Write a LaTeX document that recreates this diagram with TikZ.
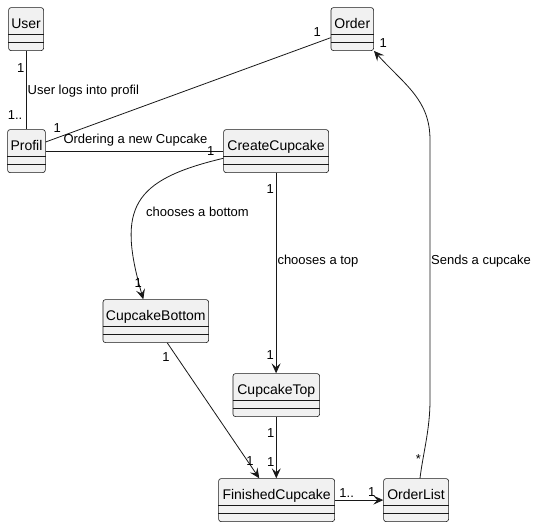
\documentclass[tikz,border=0pt]{standalone}
\usepackage{fontspec}
\setmainfont{Liberation Sans}
\usetikzlibrary{arrows.meta,calc}
\definecolor{boxfill}{HTML}{F1F1F1}
\definecolor{boxline}{HTML}{181818}
\tikzset{
  classbox/.style={draw=boxline, fill=boxfill, rounded corners=2.5pt, minimum height=43pt, inner sep=0pt, line width=0.6pt},
  classtitle/.style={inner sep=0pt, font=\fontsize{14}{16}\selectfont},
  sep/.style={draw=boxline, line width=0.6pt},
  conn/.style={draw=boxline, line width=0.8pt},
  arr/.style={-{Stealth[length=10pt,width=9pt,inset=4pt]}},
  lbl/.style={inner sep=0pt, font=\fontsize{13}{15}\selectfont},
}
\newcommand{\umlclass}[5]{%
  \node[classbox, minimum width=#4pt, anchor=north west] (#1) at (#2,#3) {};
  \node[classtitle, anchor=base] (#1-t) at ($(#1.north)+(0,21)$) {#5};
  \draw[sep] ($(#1.north west)+(0,26.7)$) -- ($(#1.north east)+(0,26.7)$);
  \draw[sep] ($(#1.north west)+(0,35)$) -- ($(#1.north east)+(0,35)$);
}
\begin{document}
\begin{tikzpicture}[x=1pt,y=-1pt]
\useasboundingbox (0,0) rectangle (539,527);
\umlclass{user}{8.3}{7.3}{35}{User}
\umlclass{profil}{7.3}{129.3}{37.7}{Profil}
\umlclass{order}{330.7}{7.3}{42.6}{Order}
\umlclass{create}{223.3}{129.3}{105}{CreateCupcake}
\umlclass{cbottom}{102.7}{299.3}{105.6}{CupcakeBottom}
\umlclass{ctop}{232.7}{373.3}{86.6}{CupcakeTop}
\umlclass{finished}{218.3}{478.3}{116}{FinishedCupcake}
\umlclass{orderlist}{383.3}{478.3}{65}{OrderList}

% connectors
\draw[conn] (user.south) -- (user.south |- profil.north);
\draw[conn] ($(profil.north east)+(0,12.7)$) -- ($(order.north west)+(0,30.4)$);
\draw[conn] ($(profil.north east)+(0,21.7)$) -- ($(create.north west)+(0,21.7)$);
\draw[conn,arr] ($(create.north west)+(0,29)$) .. controls +(-91.3,21.7) and +(-26.3,-91.3) .. ($(cbottom.north west)+(40.6,0)$);
\draw[conn,arr] (create.south) -- (create.south |- ctop.north);
\draw[conn,arr] ($(cbottom.south west)+(64.6,0)$) -- ($(finished.north west)+(41,0)$);
\draw[conn,arr] (ctop.south) -- (ctop.south |- finished.north);
\draw[conn,arr] (finished.east) -- (orderlist.west);
\draw[conn,arr] ($(orderlist.north west)+(36.7,0)$) .. controls +(3,-25) and +(0,30) .. ++(10,-78.3) -- ++(0,-260) .. controls +(0,-40) and +(31.7,34.7) .. (order.south east);

% labels
\node[lbl] (m1) at (20.7,68.3) {1};
\node[lbl] (m2) at (15,115) {1..};
\node[lbl, anchor=base west] (l1) at (27.5,94.3) {User logs into profil};
\node[lbl] (m3) at (57.3,128.3) {1};
\node[lbl] (m4) at (317.3,31.7) {1};
\node[lbl, anchor=base west] (l2) at (63.3,144) {Ordering a new Cupcake};
\node[lbl] (m5) at (210.7,150.7) {1};
\node[lbl, anchor=base west] (l3) at (146,216.7) {chooses a bottom};
\node[lbl] (m6) at (138.3,283.3) {1};
\node[lbl, anchor=base west] (l4) at (277.3,264) {chooses a top};
\node[lbl] (m7) at (270.3,189.3) {1};
\node[lbl] (m8) at (270.3,355) {1};
\node[lbl] (m9) at (166,357.3) {1};
\node[lbl] (m10) at (250,460.7) {1};
\node[lbl] (m11) at (270.7,432.7) {1};
\node[lbl] (m12) at (270.7,461.7) {1};
\node[lbl] (m13) at (346.7,493.3) {1..};
\node[lbl] (m14) at (371.7,491.7) {1};
\node[lbl] (m15) at (383.3,43.3) {1};
\node[lbl] (m16) at (418.3,459.3) {*};
\node[lbl, anchor=base west] (l5) at (431,264.3) {Sends a cupcake};
\end{tikzpicture}
\end{document}
